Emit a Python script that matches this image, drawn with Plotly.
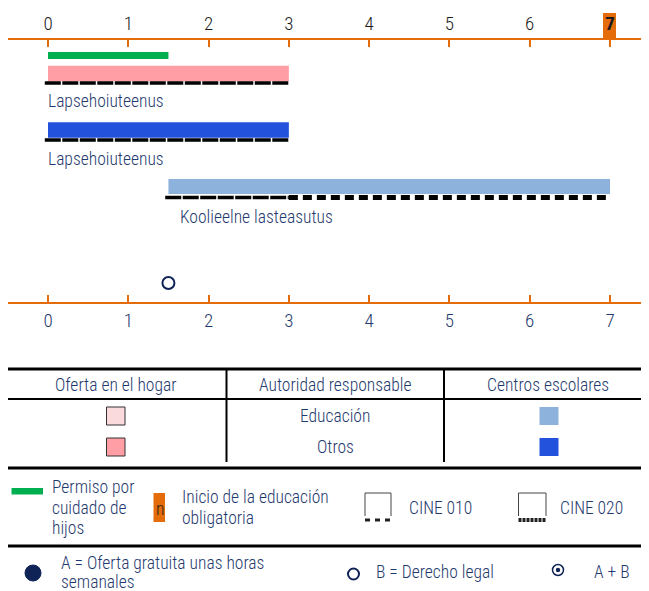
import plotly.graph_objects as go

# Datos (edades en años)
ages = [0, 1, 2, 3, 4, 5, 6, 7]
compulsory_start = 7

leave_start, leave_end = 0, 1.5  # Permiso por cuidado de hijos

service_names = ["Lapsehoiuteenus", "Lapsehoiuteenus", "Koolieelne lasteasutus"]
service_start = [0, 0, 1.5]
service_end = [3, 3, 7]
service_kind = ["hogar_otros", "centro_otros", "centro_edu"]

cine010_start = [0, 0, 1.5]
cine010_end = [3, 3, 3]
cine020_start = [None, None, 3]
cine020_end = [None, None, 7]

legal_right_age = [1.5]  # B = Derecho legal

# Estilo
FONT = "Roboto Condensed, Liberation Sans Narrow, DejaVu Sans Condensed, sans-serif"
FS = 17.5
WT = 300
NAVY = "#1F3A6E"
DARK = "#0F2357"
ORANGE = "#E46C0A"
GREEN = "#00B050"
COLORS = {
    "hogar_edu": "#FADADD",
    "hogar_otros": "#FF9EA5",
    "centro_edu": "#8DB3DD",
    "centro_otros": "#2352DC",
}

# la página añade 8 px de margen: la figura ocupa el resto de la ventana
OFF = 8
W, H = 649, 591
FW, FH = W - OFF, H - OFF
X0_PX, X7_PX = 48, 610
PX = (X7_PX - X0_PX) / 7.0


def px2x(p):
    return (p - X0_PX) / PX


def rx(p):
    return (p - OFF) / FW


# filas del gráfico (posición vertical en píxeles)
row_y = [73.5, 130, 186.5]
row_h = [15.5, 15.5, 15]
line_y = [83, 140, 197.5]
label_y = [101, 159, 217]
label_dx = [-2, -2, 10]

fig = go.Figure()

# permiso
fig.add_trace(go.Bar(
    orientation="h", y=[55.5], x=[leave_end - leave_start], base=[leave_start],
    width=[7], marker=dict(color=GREEN, line_width=0),
))

# servicios
fig.add_trace(go.Bar(
    orientation="h", y=row_y,
    x=[e - s for s, e in zip(service_start, service_end)], base=service_start,
    width=row_h, marker=dict(color=[COLORS[k] for k in service_kind], line_width=0),
))

# líneas CINE
for i in range(len(service_names)):
    fig.add_trace(go.Scatter(
        x=[cine010_start[i] - 0.04, cine010_end[i]], y=[line_y[i], line_y[i]],
        mode="lines", line=dict(color="black", width=3.5, dash="16px,1.5px"),
    ))
    if cine020_start[i] is not None:
        fig.add_trace(go.Scatter(
            x=[cine020_start[i], cine020_end[i]], y=[line_y[i], line_y[i]],
            mode="lines", line=dict(color="black", width=5, dash="9px,5px"),
        ))
    fig.add_annotation(
        x=px2x(X0_PX + service_start[i] * PX + label_dx[i]), y=label_y[i],
        text=service_names[i], showarrow=False, xanchor="left", yanchor="middle",
        font=dict(family=FONT, size=FS, color=NAVY, weight=WT),
    )

# derecho legal
fig.add_trace(go.Scatter(
    x=legal_right_age, y=[283] * len(legal_right_age), mode="markers",
    marker=dict(symbol="circle-open", size=12, color=DARK, line=dict(width=2, color=DARK)),
))

# cuadro naranja detrás del 7
fig.add_shape(type="rect", xref="x", yref="y", x0=compulsory_start - 0.087,
              x1=compulsory_start + 0.075, y0=13, y1=39,
              fillcolor=ORANGE, line_width=0, layer="below")


# ---------- leyenda ----------
def hline(y, w=3):
    fig.add_shape(type="line", xref="paper", yref="y", x0=0, x1=1,
                  y0=y, y1=y, line=dict(color="black", width=w))


def vline(x, y0, y1, w=2):
    fig.add_shape(type="line", xref="paper", yref="y", x0=rx(x), x1=rx(x),
                  y0=y0, y1=y1, line=dict(color="black", width=w))


def txt(x, y, s, anchor="left", size=FS, color=NAVY):
    fig.add_annotation(x=rx(x), y=y, xref="paper", yref="y", text=s, showarrow=False,
                       xanchor=anchor, yanchor="middle",
                       font=dict(family=FONT, size=size, color=color, weight=WT))


def box(x0, x1, y0, y1, fill, lc=None, lw=0):
    fig.add_shape(type="rect", xref="paper", yref="y", x0=rx(x0), x1=rx(x1), y0=y0, y1=y1,
                  fillcolor=fill, line=dict(color=lc or fill, width=lw))


hline(369, 3)
hline(399, 2)
hline(468, 3)
vline(226.5, 369, 462)
vline(444, 369, 462)
txt(116.5, 385, "Oferta en el hogar", "center")
txt(335, 385, "Autoridad responsable", "center")
txt(547.5, 385, "Centros escolares", "center")
txt(335, 416, "Educación", "center")
txt(335, 447, "Otros", "center")
box(106.5, 125, 407, 425, COLORS["hogar_edu"], "#333333", 1)
box(106.5, 125, 438, 456, COLORS["hogar_otros"], "#333333", 1)
box(539.5, 558.5, 407, 425, COLORS["centro_edu"])
box(539.5, 558.5, 438, 456, COLORS["centro_otros"])

# permiso / inicio obligatoria / CINE
box(11.5, 43, 488, 494.5, GREEN)
txt(50, 487, "Permiso por")
txt(50, 507.5, "cuidado de")
txt(50, 528, "hijos")
box(153.5, 165, 493, 522, ORANGE)
txt(159.5, 509, "n", "center", FS, "#222222")
txt(180, 497, "Inicio de la educación")
txt(180, 518, "obligatoria")

for x0, x1, dash, bw, label, lx in [(365, 391, "5px,5px", 3, "CINE 010", 407),
                                    (518.5, 546, "3px,1px", 4, "CINE 020", 558)]:
    fig.add_shape(type="path", xref="paper", yref="y",
                  path=f"M {rx(x0)},516 L {rx(x0)},493 L {rx(x1)},493 L {rx(x1)},516",
                  line=dict(color="#444444", width=1))
    fig.add_shape(type="line", xref="paper", yref="y", x0=rx(x0), x1=rx(x1), y0=520, y1=520,
                  line=dict(color="#222222", width=bw, dash=dash))
    txt(lx, 507.5, label)

hline(546, 3)

# A / B / A+B
fig.add_shape(type="circle", xref="paper", yref="y", x0=rx(25), x1=rx(41), y0=565, y1=581,
              fillcolor=DARK, line=dict(color=DARK, width=1))
txt(59, 562.5, "A = Oferta gratuita unas horas")
txt(59, 581.5, "semanales")
fig.add_shape(type="circle", xref="paper", yref="y", x0=rx(348), x1=rx(359), y0=568.5, y1=579.5,
              line=dict(color=DARK, width=2))
txt(374, 572, "B = Derecho legal")
fig.add_shape(type="circle", xref="paper", yref="y", x0=rx(552.5), x1=rx(563.5), y0=564.5, y1=575.5,
              line=dict(color=DARK, width=1.5))
fig.add_shape(type="circle", xref="paper", yref="y", x0=rx(555.8), x1=rx(560.2), y0=567.8, y1=572.2,
              fillcolor=DARK, line=dict(color=DARK, width=0))
txt(592, 572, "A + B")

xr = [px2x(OFF), px2x(W)]
axis_common = dict(
    range=xr, domain=[0, 1], tickmode="array", tickvals=ages, ticks="inside",
    ticklen=7, tickwidth=2, tickcolor=ORANGE, showline=True, linecolor=ORANGE,
    linewidth=2, showgrid=False, zeroline=False, anchor="free",
)

fig.update_layout(
    width=FW, height=FH,
    margin=dict(l=0, r=0, t=0, b=0),
    plot_bgcolor="white", paper_bgcolor="white",
    barmode="overlay", showlegend=False,
    xaxis=dict(**axis_common, side="bottom", position=1 - (303 - OFF) / FH,
               ticktext=[str(a) for a in ages],
               tickfont=dict(family=FONT, size=19, color=NAVY, weight=WT)),
    xaxis2=dict(**axis_common, side="top", position=1 - (39 - OFF) / FH, overlaying="x",
                ticktext=[f"<b>{a}</b>" if a == compulsory_start else str(a) for a in ages],
                tickfont=dict(family=FONT, size=19, color="#1A1A1A", weight=WT)),
    yaxis=dict(range=[H, OFF], domain=[0, 1], visible=False),
)
# traza invisible para mostrar el eje superior
fig.add_trace(go.Scatter(x=[0], y=[-10], xaxis="x2", mode="markers", marker_opacity=0,
                         hoverinfo="skip"))

fig.write_html("out.html")
